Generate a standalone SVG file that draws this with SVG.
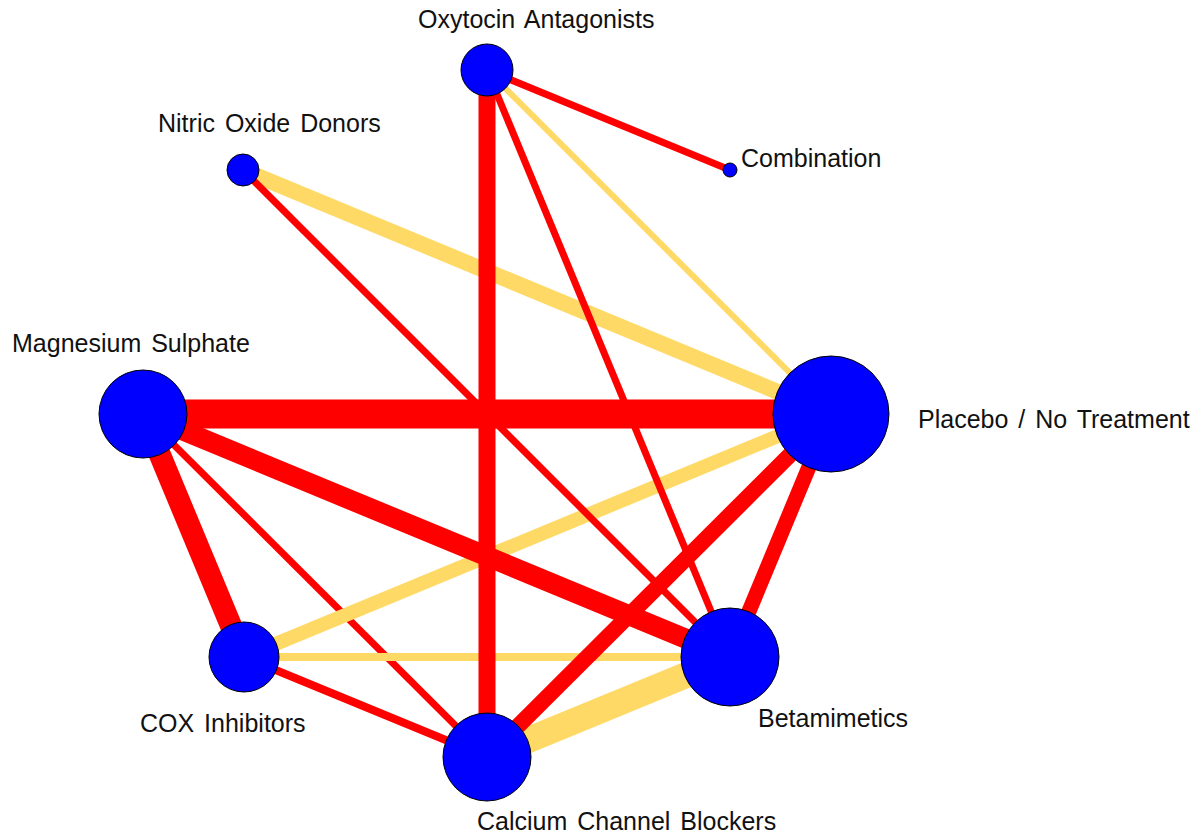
<svg xmlns="http://www.w3.org/2000/svg" width="1201" height="837" viewBox="0 0 1201 837">
<style>
.r{stroke:#FF0000;fill:none}
.y{stroke:#FFD966;fill:none}
.n{fill:#0000FF;stroke:#000;stroke-width:1}
.t{font-family:"Liberation Sans",Arial,sans-serif;font-size:25px;fill:#111;word-spacing:3px}
</style>
<rect width="1201" height="837" fill="#fff"/>
<g id="connectors">
<line class="r" x1="143" y1="414" x2="487" y2="757" stroke-width="7"/>
<line class="r" x1="244" y1="657" x2="487" y2="757" stroke-width="8"/>
<line class="y" x1="244" y1="657" x2="730" y2="657" stroke-width="8"/>
<line class="y" x1="831" y1="414" x2="244" y2="657" stroke-width="14"/>
<line class="y" x1="487" y1="757" x2="730" y2="657" stroke-width="26"/>
<line class="y" x1="243" y1="170" x2="831" y2="414" stroke-width="16"/>
<line class="y" x1="487" y1="70" x2="831" y2="414" stroke-width="6"/>
<line class="r" x1="487" y1="70" x2="730" y2="170" stroke-width="7"/>
<line class="r" x1="487" y1="70" x2="730" y2="657" stroke-width="7"/>
<line class="r" x1="243" y1="170" x2="730" y2="657" stroke-width="7"/>
<line class="r" x1="143" y1="414" x2="730" y2="657" stroke-width="20"/>
<line class="r" x1="487" y1="70" x2="487" y2="757" stroke-width="17"/>
<line class="r" x1="143" y1="414" x2="831" y2="414" stroke-width="29"/>
<line class="r" x1="143" y1="414" x2="244" y2="657" stroke-width="22"/>
<line class="r" x1="831" y1="414" x2="487" y2="757" stroke-width="16"/>
<line class="r" x1="831" y1="414" x2="730" y2="657" stroke-width="15"/>
</g>
<g id="node-oxytocin"><circle class="n" cx="487" cy="70" r="26"/><text class="t" x="418" y="28">Oxytocin Antagonists</text></g>
<g id="node-combination"><circle class="n" cx="730" cy="170" r="7"/><text class="t" x="741" y="167">Combination</text></g>
<g id="node-nitric"><circle class="n" cx="243" cy="170" r="16"/><text class="t" x="158" y="132">Nitric Oxide Donors</text></g>
<g id="node-magnesium"><circle class="n" cx="143" cy="414" r="44"/><text class="t" x="12" y="352">Magnesium Sulphate</text></g>
<g id="node-placebo"><circle class="n" cx="831" cy="414" r="58"/><text class="t" x="918" y="428">Placebo / No Treatment</text></g>
<g id="node-cox"><circle class="n" cx="244" cy="657" r="35"/><text class="t" x="140" y="732">COX Inhibitors</text></g>
<g id="node-betamimetics"><circle class="n" cx="730" cy="657" r="49"/><text class="t" x="758" y="727">Betamimetics</text></g>
<g id="node-calcium"><circle class="n" cx="487" cy="757" r="44"/><text class="t" x="477" y="830">Calcium Channel Blockers</text></g>
</svg>
